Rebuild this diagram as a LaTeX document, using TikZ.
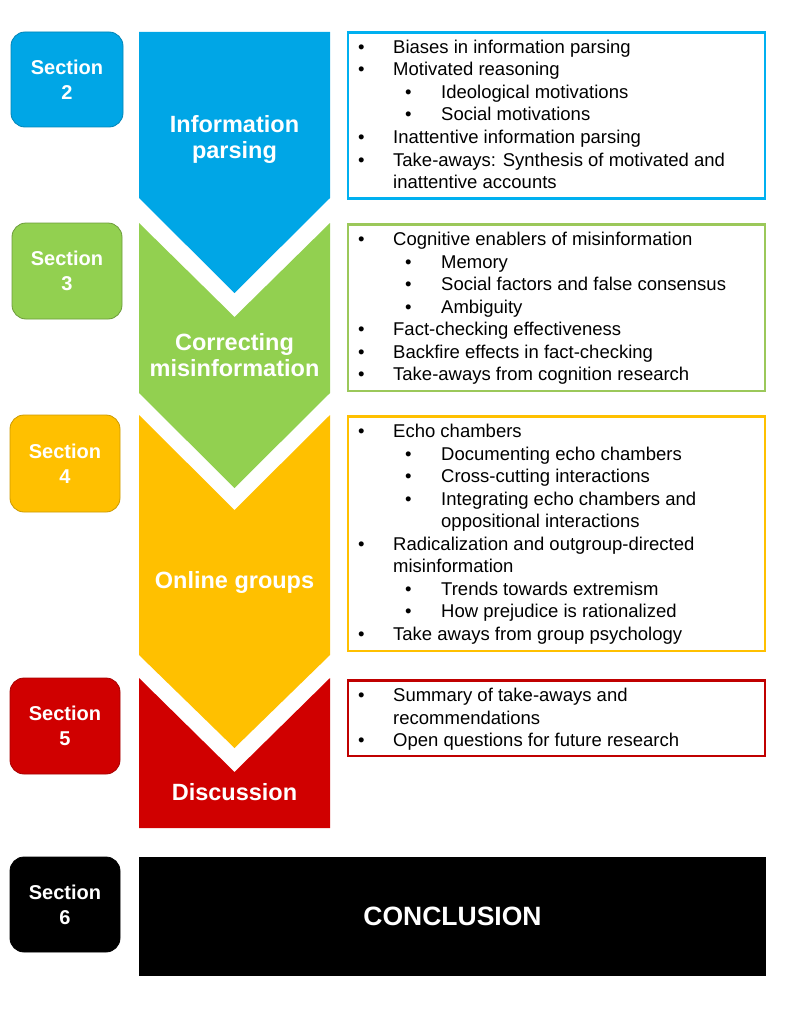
\documentclass[tikz,border=0pt]{standalone}
\usepackage{fontspec}
\setmainfont{Liberation Sans}
\definecolor{cblue}{RGB}{0,166,230}
\definecolor{cbluebd}{RGB}{0,176,240}
\definecolor{cgreen}{RGB}{146,208,80}
\definecolor{cgreenbd}{RGB}{155,200,90}
\definecolor{cyellow}{RGB}{255,192,0}
\definecolor{cred}{RGB}{208,0,0}
\definecolor{credbd}{RGB}{192,0,0}
\newcommand\itemA[3]{\node[itm] (#1) at (358,#2) {\makebox[35pt][l]{\textbullet}#3};}
\newcommand\itemB[3]{\node[itm] (#1) at (405,#2) {\makebox[36pt][l]{\textbullet}#3};}
\newcommand\itemC[3]{\node[itm] (#1) at (393,#2) {#3};}
\newcommand\itemD[3]{\node[itm] (#1) at (441,#2) {#3};}
\begin{document}
\begin{tikzpicture}[x=1pt,y=-1pt,
  secbox/.style={rounded corners=14pt, minimum width=112pt, minimum height=95pt, inner sep=0pt,
     text=white, align=center, font=\fontsize{20}{25}\selectfont\bfseries, line width=0.8pt},
  chevlabel/.style={text=white, align=center, font=\fontsize{23.5}{26}\selectfont\bfseries, inner sep=0pt},
  listbox/.style={line width=2.5pt, minimum width=417pt, inner sep=0pt, fill=white},
  itm/.style={anchor=base west, inner sep=0pt, font=\fontsize{18.5}{22.5}\selectfont}
]
\useasboundingbox (0,0) rectangle (794,1014);

% section boxes
\node[secbox, fill=cblue, draw=cblue!80!black] (s2) at (67,79.5) {Section\\2};
\node[secbox, fill=cgreen, draw=cgreen!75!black, minimum width=110pt, minimum height=96pt] (s3) at (67,271) {Section\\3};
\node[secbox, fill=cyellow, draw=cyellow!80!black, minimum width=110pt, minimum height=97pt] (s4) at (65,463.5) {Section\\4};
\node[secbox, fill=cred, draw=cred!80!black, minimum width=110pt, minimum height=96pt] (s5) at (65,726) {Section\\5};
\node[secbox, fill=black, draw=black, minimum width=110pt, minimum height=95pt] (s6) at (65,904.5) {Section\\6};

% chevrons
\fill[cblue] (139,32) -- (330,32) -- (330,198) -- (234.5,293) -- (139,198) -- cycle;
\fill[cgreen] (139,223) -- (234.5,317) -- (330,223) -- (330,393) -- (234.5,488) -- (139,393) -- cycle;
\fill[cyellow] (139,415) -- (234.5,510) -- (330,415) -- (330,655) -- (234.5,748) -- (139,655) -- cycle;
\fill[cred] (139,678) -- (234.5,772) -- (330,678) -- (330,828) -- (139,828) -- cycle;
\node[chevlabel] (c2) at (234.5,139.5) {Information\\parsing};
\node[chevlabel] (c3) at (234.5,355) {Correcting\\misinformation};
\node[chevlabel] (c4) at (234.5,582) {Online groups};
\node[chevlabel] (c5) at (234.5,792) {Discussion};

% conclusion
\node[fill=black, minimum width=627pt, minimum height=119pt, inner sep=0pt, text=white,
  font=\fontsize{26.5}{30}\selectfont\bfseries] (concl) at (452.5,916.5) {CONCLUSION};

% list boxes
\node[listbox, draw=cbluebd, minimum height=165.5pt] (b2) at (556.5,115.5) {};
\node[listbox, draw=cgreenbd, minimum height=166.5pt] (b3) at (556.5,307.5) {};
\node[listbox, draw=cyellow, minimum height=234.5pt] (b4) at (556.5,533.5) {};
\node[listbox, draw=credbd, minimum height=75.5pt] (b5) at (556.5,718) {};

% blue box text
\itemA{t21}{53.5}{Biases in information parsing}
\itemA{t22}{76}{Motivated reasoning}
\itemB{t23}{98.5}{Ideological motivations}
\itemB{t24}{121}{Social motivations}
\itemA{t25}{143.5}{Inattentive information parsing}
\itemA{t26}{166}{Take-aways: Synthesis of motivated and}
\itemC{t27}{188.5}{inattentive accounts}

% green box text
\itemA{t31}{245.5}{Cognitive enablers of misinformation}
\itemB{t32}{268}{Memory}
\itemB{t33}{290.5}{Social factors and false consensus}
\itemB{t34}{313}{Ambiguity}
\itemA{t35}{335.5}{Fact-checking effectiveness}
\itemA{t36}{358}{Backfire effects in fact-checking}
\itemA{t37}{380.5}{Take-aways from cognition research}

% yellow box text
\itemA{t41}{437.5}{Echo chambers}
\itemB{t42}{460}{Documenting echo chambers}
\itemB{t43}{482.5}{Cross-cutting interactions}
\itemB{t44}{505}{Integrating echo chambers and}
\itemD{t45}{527.5}{oppositional interactions}
\itemA{t46}{550}{Radicalization and outgroup-directed}
\itemC{t47}{572.5}{misinformation}
\itemB{t48}{595}{Trends towards extremism}
\itemB{t49}{617.5}{How prejudice is rationalized}
\itemA{t410}{640}{Take aways from group psychology}

% red box text
\itemA{t51}{701.5}{Summary of take-aways and}
\itemC{t52}{724}{recommendations}
\itemA{t53}{746.5}{Open questions for future research}
\end{tikzpicture}
\end{document}
